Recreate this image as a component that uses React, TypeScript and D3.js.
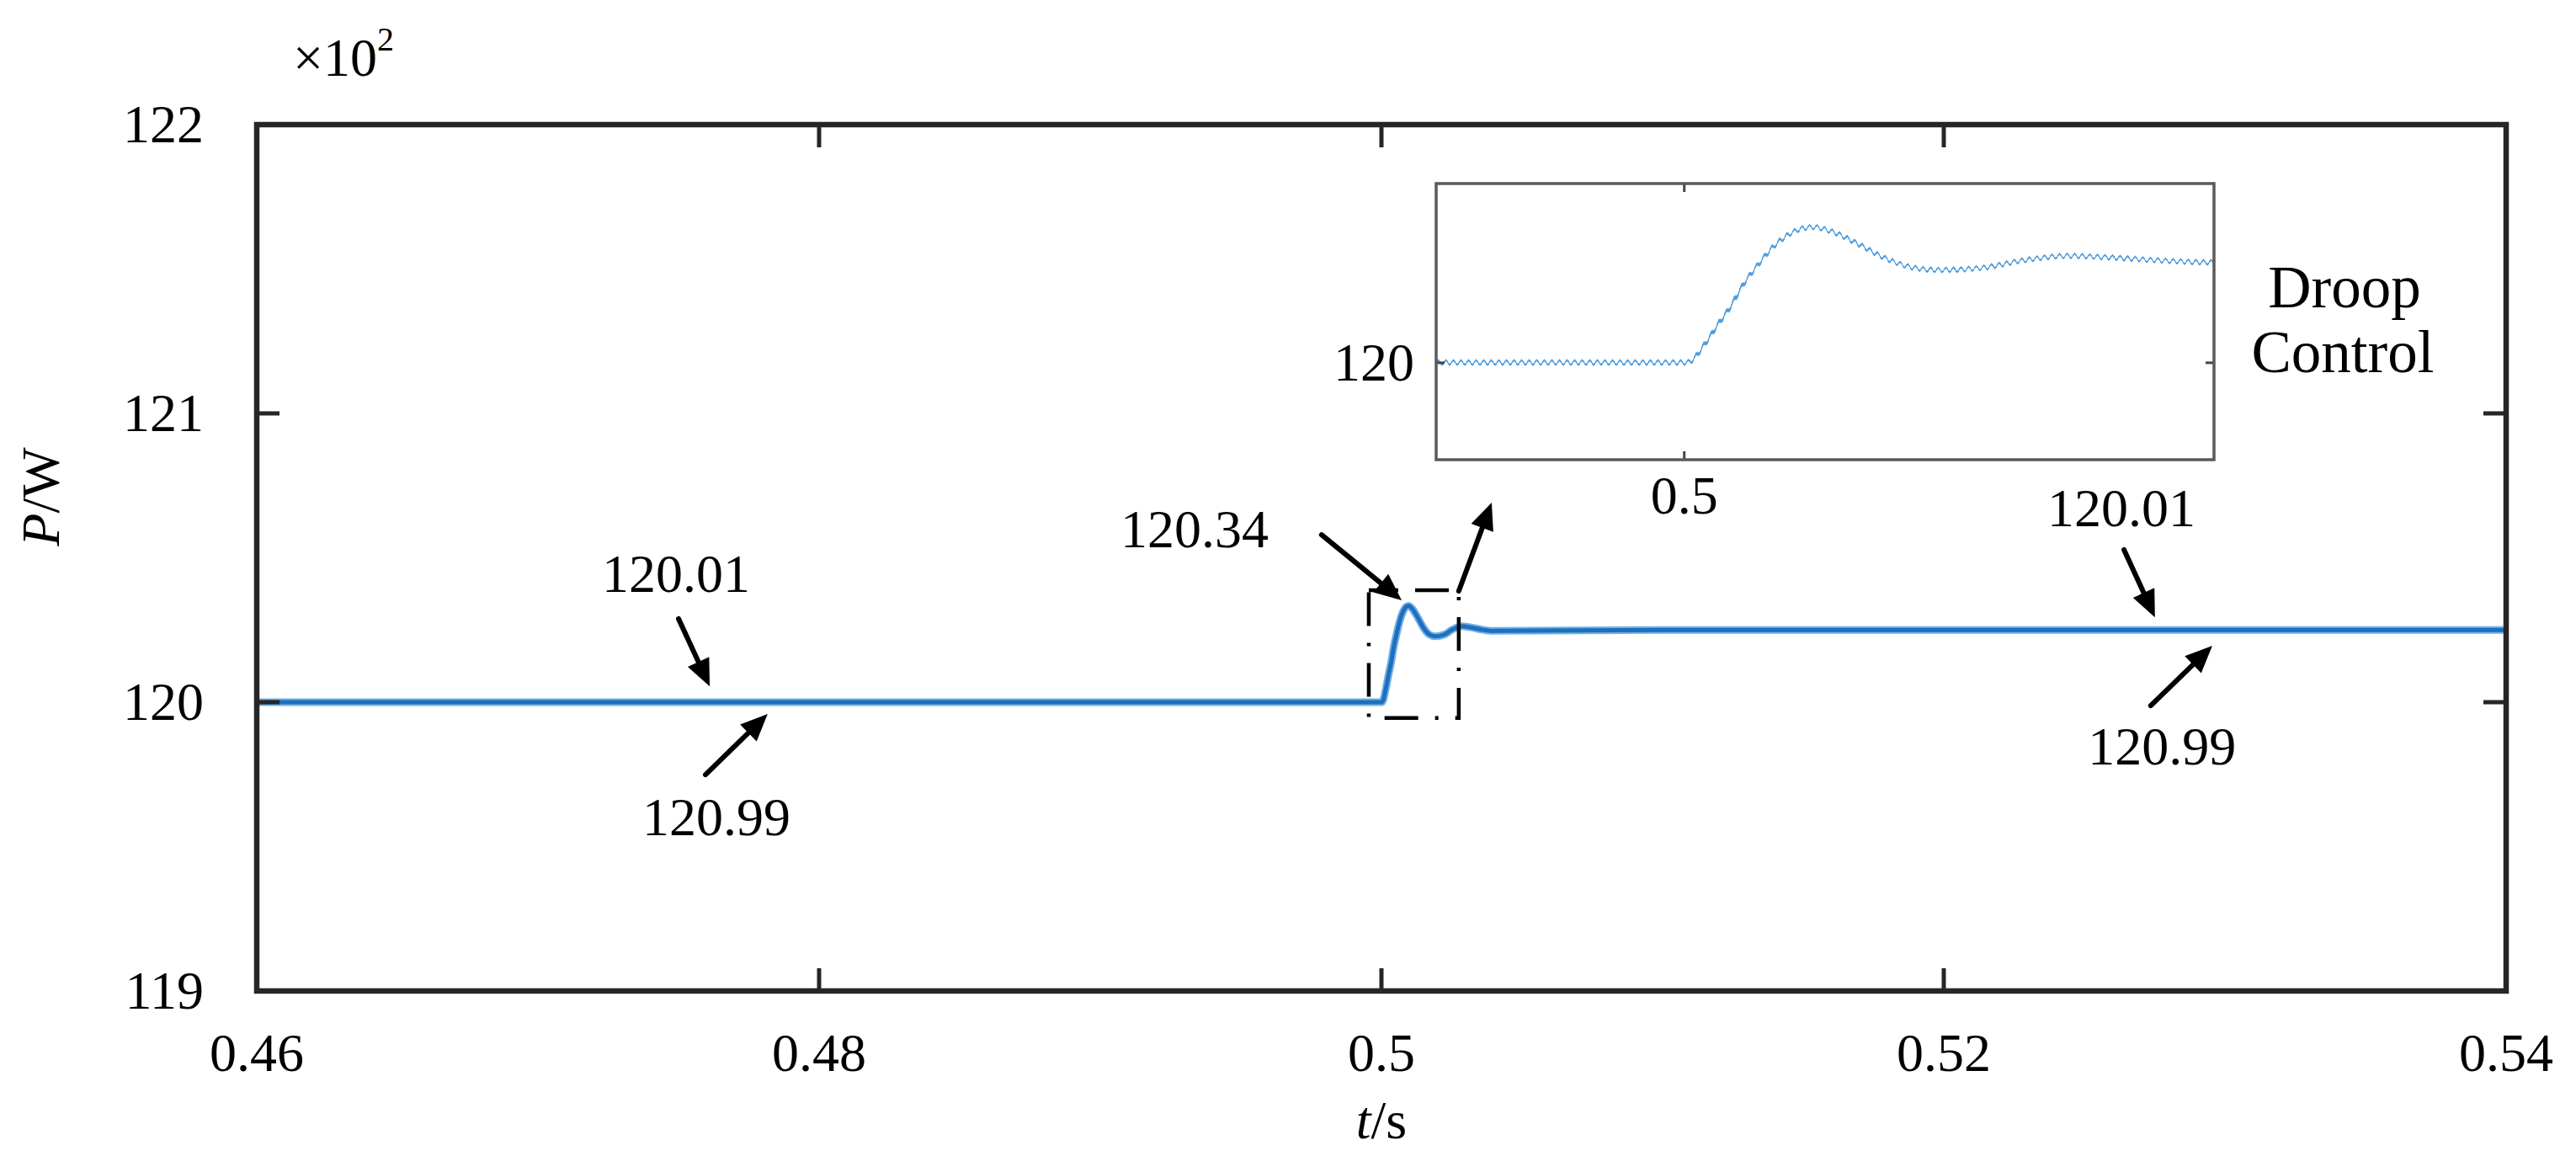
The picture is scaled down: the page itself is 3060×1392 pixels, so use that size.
import React from "react";
import * as d3 from "d3";

// ---------- data (P in units of 10^2 W, t in s) ----------
const timeS = [
  0.46, 0.49815, 0.50002, 0.500163, 0.500245, 0.500351, 0.500433, 0.50054,
  0.500665, 0.500765, 0.500872, 0.50096, 0.501092, 0.501293, 0.5015, 0.501707,
  0.501907, 0.502234, 0.502547, 0.502861, 0.503175, 0.503589, 0.503947, 0.51, 0.54,
];
const powerHW = [
  120.0, 120.0, 120.0, 120.05, 120.091, 120.141, 120.189, 120.237,
  120.286, 120.313, 120.33, 120.334, 120.324, 120.293, 120.257, 120.234,
  120.228, 120.234, 120.253, 120.263, 120.259, 120.251, 120.247, 120.25, 120.25,
];

const xTicks = [0.46, 0.48, 0.5, 0.52, 0.54];
const yTicks = [119, 120, 121, 122];
const insetXTicks = [0.5];
const insetYTicks = [120];

// annotation texts, placed in data coordinates
const noteText = ["120.01", "120.99", "120.34", "120.01", "120.99"];
const noteT = [0.47491, 0.47635, 0.49599, 0.52632, 0.52776];
const noteP = [120.382, 119.539, 120.536, 120.609, 119.784];
const noteAnchor = ["middle", "middle", "end", "middle", "middle"];

// arrows: from (t,P) to tip (t,P)
const arrowFromT = [0.475, 0.47596, 0.49787, 0.50275, 0.52641, 0.52736];
const arrowFromP = [120.289, 119.749, 120.58, 120.385, 120.528, 119.988];
const arrowToT = [0.47611, 0.47817, 0.50072, 0.50392, 0.52751, 0.52955];
const arrowToP = [120.055, 119.959, 120.353, 120.691, 120.294, 120.195];

// zoom window marked on the main axes
const zoomBoxT = [0.49955, 0.50275];
const zoomBoxP = [119.945, 120.388];

const FONT = "'Liberation Serif', 'Times New Roman', serif";

function Arrow({ x1, y1, x2, y2 }: { x1: number; y1: number; x2: number; y2: number }) {
  const dx = x2 - x1, dy = y2 - y1;
  const len = Math.hypot(dx, dy);
  const ux = dx / len, uy = dy / len;
  const hl = 32, hw = 14;
  const bx = x2 - ux * hl, by = y2 - uy * hl;
  const px = -uy, py = ux;
  const head = `${x2},${y2} ${bx + px * hw},${by + py * hw} ${bx - px * hw},${by - py * hw}`;
  return (
    <g>
      <line x1={x1} y1={y1} x2={bx + ux * 4} y2={by + uy * 4} stroke="#000" strokeWidth={6} strokeLinecap="round" />
      <polygon points={head} fill="#000" />
    </g>
  );
}

export default function App() {
  const L = 305, R = 2977, T = 148, B = 1177;
  const x = d3.scaleLinear().domain([0.46, 0.54]).range([L, R]);
  const y = d3.scaleLinear().domain([119, 122]).range([B, T]);

  const pts: [number, number][] = timeS.map((t, i) => [t, powerHW[i]]);
  const mainLine = d3.line<[number, number]>().x((d) => x(d[0])).y((d) => y(d[1])).curve(d3.curveMonotoneX);

  // inset
  const IL = 1706, IR = 2630, IT = 218, IB = 546;
  const xi = d3.scaleLinear().domain([0.49815, 0.50395]).range([IL, IR]);
  const yi = d3.scaleLinear().domain([119.761, 120.442]).range([IB, IT]);
  const insetLine = d3.line<[number, number]>().x((d) => xi(d[0])).y((d) => yi(d[1])).curve(d3.curveMonotoneX);

  const tickLen = 27;
  const itl = 10;

  return (
    <svg width={3060} height={1392} viewBox="0 0 3060 1392"
      style={{ position: "absolute", left: 0, top: 0, background: "#fff" }}
      fontFamily={FONT}>
      <defs>
        <clipPath id="mainClip"><rect x={L} y={T} width={R - L} height={B - T} /></clipPath>
        <clipPath id="insetClip"><rect x={IL} y={IT} width={IR - IL} height={IB - IT} /></clipPath>
        <filter id="ripple" filterUnits="userSpaceOnUse" primitiveUnits="userSpaceOnUse"
          x={IL - 5} y={IT - 5} width={IR - IL + 10} height={IB - IT + 10}
          colorInterpolationFilters="sRGB">
          <feFlood floodColor="rgb(128,0,128)" x={IL} y={IT - 5} width={9} height={IB - IT + 10} result="lo" />
          <feFlood floodColor="rgb(128,255,128)" x={IL} y={IT - 5} width={4.5} height={IB - IT + 10} result="hi" />
          <feMerge x={IL} y={IT - 5} width={9} height={IB - IT + 10} result="tile">
            <feMergeNode in="lo" />
            <feMergeNode in="hi" />
          </feMerge>
          <feTile in="tile" x={IL - 5} y={IT - 5} width={IR - IL + 10} height={IB - IT + 10} result="map" />
          <feGaussianBlur in="map" stdDeviation="1.4 0" result="smap" />
          <feDisplacementMap in="SourceGraphic" in2="smap" scale={7} xChannelSelector="R" yChannelSelector="G" />
        </filter>
      </defs>
      <rect x={0} y={0} width={3060} height={1392} fill="#fff" />

      {/* main series */}
      <g clipPath="url(#mainClip)">
        <path d={mainLine(pts) || ""} fill="none" stroke="#74b0e3" strokeWidth={9} strokeLinejoin="round" />
        <path d={mainLine(pts) || ""} fill="none" stroke="#1c70c0" strokeWidth={5} strokeLinejoin="round" />
      </g>

      {/* main ticks */}
      {xTicks.map((v) => (
        <g key={"xt" + v}>
          <line x1={x(v)} x2={x(v)} y1={B} y2={B - tickLen} stroke="#262626" strokeWidth={5} />
          <line x1={x(v)} x2={x(v)} y1={T} y2={T + tickLen} stroke="#262626" strokeWidth={5} />
          <text x={x(v)} y={1272} fontSize={64} textAnchor="middle" fill="#000">{String(v)}</text>
        </g>
      ))}
      {yTicks.map((v) => (
        <g key={"yt" + v}>
          <line x1={L} x2={L + tickLen} y1={y(v)} y2={y(v)} stroke="#262626" strokeWidth={5} />
          <line x1={R} x2={R - tickLen} y1={y(v)} y2={y(v)} stroke="#262626" strokeWidth={5} />
          <text x={242} y={y(v) + 21} fontSize={64} textAnchor="end" fill="#000">{String(v)}</text>
        </g>
      ))}
      <rect x={L} y={T} width={R - L} height={B - T} fill="none" stroke="#262626" strokeWidth={6.5} />

      {/* exponent */}
      <text x={348} y={90} fontSize={64} fill="#000">
        ×10<tspan fontSize={40} dy={-30}>2</tspan>
      </text>

      {/* axis labels */}
      <text x={1641} y={1352} fontSize={64} textAnchor="middle" fill="#000">
        <tspan fontStyle="italic">t</tspan>/s
      </text>
      <text transform="translate(70,590) rotate(-90)" fontSize={64} textAnchor="middle" fill="#000">
        <tspan fontStyle="italic">P</tspan>/W
      </text>

      {/* zoom window */}
      <rect x={x(zoomBoxT[0])} y={y(zoomBoxP[1])}
        width={x(zoomBoxT[1]) - x(zoomBoxT[0])} height={y(zoomBoxP[0]) - y(zoomBoxP[1])}
        fill="none" stroke="#000" strokeWidth={4.5} strokeDasharray="40 20 4 20" strokeDashoffset={29} />

      {/* arrows */}
      {arrowFromT.map((t, i) => (
        <Arrow key={"ar" + i} x1={x(t)} y1={y(arrowFromP[i])} x2={x(arrowToT[i])} y2={y(arrowToP[i])} />
      ))}

      {/* annotation texts */}
      {noteText.map((s, i) => (
        <text key={"nt" + i} x={x(noteT[i])} y={y(noteP[i])} fontSize={64}
          textAnchor={noteAnchor[i] as any} fill="#000">{s}</text>
      ))}

      {/* inset */}
      <rect x={IL} y={IT} width={IR - IL} height={IB - IT} fill="#fff" />
      <g clipPath="url(#insetClip)">
        <g filter="url(#ripple)">
          <path d={insetLine(pts) || ""} fill="none" stroke="#4f9ddc" strokeWidth={2.6} strokeLinejoin="round" />
        </g>
      </g>
      {insetXTicks.map((v) => (
        <g key={"ixt" + v}>
          <line x1={xi(v)} x2={xi(v)} y1={IB} y2={IB - itl} stroke="#444" strokeWidth={3} />
          <line x1={xi(v)} x2={xi(v)} y1={IT} y2={IT + itl} stroke="#444" strokeWidth={3} />
          <text x={xi(v)} y={610} fontSize={64} textAnchor="middle" fill="#000">{String(v)}</text>
        </g>
      ))}
      {insetYTicks.map((v) => (
        <g key={"iyt" + v}>
          <line x1={IL} x2={IL + itl} y1={yi(v)} y2={yi(v)} stroke="#444" strokeWidth={3} />
          <line x1={IR} x2={IR - itl} y1={yi(v)} y2={yi(v)} stroke="#444" strokeWidth={3} />
          <text x={1680} y={yi(v) + 21} fontSize={64} textAnchor="end" fill="#000">{String(v)}</text>
        </g>
      ))}
      <rect x={IL} y={IT} width={IR - IL} height={IB - IT} fill="none" stroke="#5a5a5a" strokeWidth={3.5} />

      {/* inset caption */}
      <text x={2785} y={365} fontSize={71} textAnchor="middle" fill="#000">Droop</text>
      <text x={2783} y={442} fontSize={71} textAnchor="middle" fill="#000">Control</text>
    </svg>
  );
}
